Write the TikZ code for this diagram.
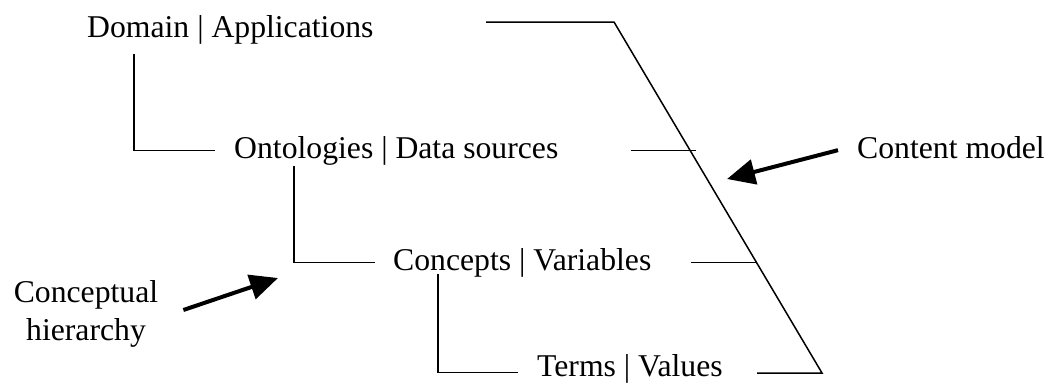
\documentclass[tikz,border=0pt]{standalone}
\usepackage{fontspec}
\setmainfont{Liberation Serif}
\usepackage{tikz}
\usetikzlibrary{arrows.meta,calc,positioning}
\tikzset{
  lvl/.style={inner sep=0pt,anchor=base west},
  link/.style={line width=1.6pt},
  frame/.style={line width=1.5pt,line join=miter},
  pointer/.style={line width=4pt,-{Triangle[length=28pt,width=25pt]}},
  every node/.style={font=\fontsize{31.7}{38}\selectfont}
}

\begin{document}
\begin{tikzpicture}[x=1pt,y=-1pt]
  \useasboundingbox (0,0) rectangle (1057,383);
  % levels of the hierarchy
  \node[lvl] (dom) at (87,37)  {Domain | Applications};
  \node[lvl] (ont) at (234,158) {Ontologies | Data sources};
  \node[lvl] (con) at (393,270) {Concepts | Variables};
  \node[lvl] (ter) at (537,376) {Terms | Values};
  % side labels
  \node[lvl] (cm) at (857,158) {Content model};
  \node[inner sep=0pt,align=center] (ch) at (86,313.5) {Conceptual\\hierarchy};
  % brackets between levels
  \draw[link] ([xshift=47pt,yshift=-10pt]dom.south west) |- ([xshift=-19pt]ont.west);
  \draw[link] ([xshift=60pt,yshift=-1pt]ont.south west) |- ([xshift=-18pt]con.west);
  \draw[link] ([xshift=45pt,yshift=3pt]con.south west) |- ([xshift=-19pt,yshift=-4pt]ter.west);
  % content model frame
  \coordinate (fstart) at (486,22);
  \coordinate (ftop) at (614,22);
  \coordinate (fbot) at (822,373);
  \draw[frame] (fstart) -- (ftop) -- (fbot) -- ++(-65,0);
  \draw[link] ([xshift=72pt]ont.east) -- ++(65,0);
  \draw[link] ([xshift=39pt]con.east) -- ++(65,0);
  % arrows
  \coordinate (cmtip) at (727,179);
  \coordinate (chtip) at (278,278);
  \draw[pointer] ([xshift=-19pt,yshift=-3pt]cm.west) -- (cmtip);
  \draw[pointer] ([xshift=25pt,yshift=3.5pt]ch.east) -- (chtip);
\end{tikzpicture}
\end{document}
